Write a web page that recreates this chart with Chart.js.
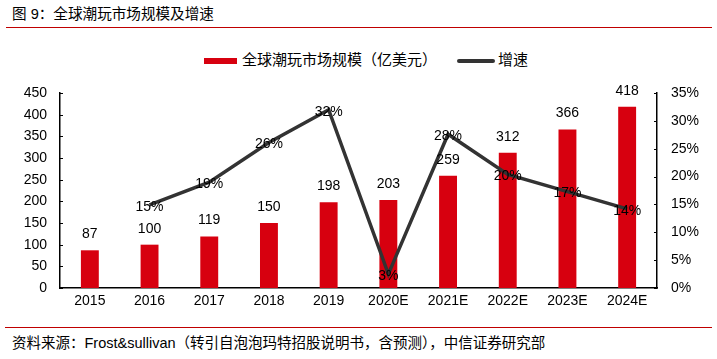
<!DOCTYPE html>
<html>
<head>
<meta charset="utf-8">
<script src="https://cdn.jsdelivr.net/npm/chart.js@4.4.1/dist/chart.umd.min.js"></script>
<style>
  body { margin: 0; background: #fff; }
  #wrap { position: relative; width: 717px; height: 359px; overflow: hidden; font-family: "Liberation Sans", "Noto Sans CJK SC", sans-serif; color: #000; }
  #title { position: absolute; left: 12px; top: 5px; font-size: 14.6px; line-height: 18px; }
  #titleRule { position: absolute; left: 6px; top: 27px; width: 706px; height: 1px; background: #c00000; }
  #legend { position: absolute; top: 50px; left: 0; font-size: 15px; line-height: 20px; }
  .lg { position: absolute; white-space: nowrap; }
  .sw { position: absolute; }
  #chartBox { position: absolute; left: 0; top: 30px; width: 717px; height: 290px; }
  #footRule { position: absolute; left: 5px; top: 327px; width: 707px; height: 1px; background: #c00000; }
  #source { position: absolute; left: 12px; top: 334px; font-size: 14.5px; line-height: 18px; white-space: nowrap; }
</style>
</head>
<body>
<div id="wrap">
  <div id="title">图 9：全球潮玩市场规模及增速</div>
  <div id="titleRule"></div>
  <div id="legend">
    <div class="sw" style="left:204px;top:8px;width:33px;height:6px;background:#d7000f"></div>
    <div class="lg" style="left:242px;top:0">全球潮玩市场规模（亿美元）</div>
    <div class="sw" style="left:457px;top:9px;width:38px;height:4px;background:#333;border-radius:2px"></div>
    <div class="lg" style="left:498px;top:0">增速</div>
  </div>
  <div id="chartBox"><canvas id="chart"></canvas></div>
  <div id="footRule"></div>
  <div id="source">资料来源：Frost&amp;sullivan（转引自泡泡玛特招股说明书，含预测），中信证券研究部</div>
</div>
<script>
const years = ['2015', '2016', '2017', '2018', '2019', '2020E', '2021E', '2022E', '2023E', '2024E'];
const marketSize = [87, 100, 119, 150, 198, 203, 259, 312, 366, 418];
const growthPct = [null, 14.9, 19.0, 26.1, 32.0, 2.5, 27.6, 20.4, 17.3, 14.2];

const FONT = '"Liberation Sans", "Noto Sans CJK SC", sans-serif';

// value labels + inward tick marks
const labelsPlugin = {
    id: 'labels',
    afterDatasetsDraw(chart) {
        const ctx = chart.ctx;
        ctx.save();
        ctx.font = '14px ' + FONT;
        ctx.fillStyle = '#000';
        ctx.textAlign = 'center';
        ctx.textBaseline = 'middle';
        chart.getDatasetMeta(0).data.forEach((bar, i) => {
            ctx.fillText(String(marketSize[i]), bar.x, bar.y - 16);
        });
        chart.getDatasetMeta(1).data.forEach((pt, i) => {
            if (growthPct[i] === null) return;
            ctx.fillText(Math.round(growthPct[i]) + '%', pt.x, pt.y + 2);
        });

        // small ticks pointing into the plot
        ctx.strokeStyle = '#000';
        ctx.lineWidth = 1;
        const yl = chart.scales.y;
        const yr = chart.scales.y1;
        yl.ticks.forEach((t, i) => {
            const py = Math.round(yl.getPixelForTick(i)) + 0.5;
            ctx.beginPath();
            ctx.moveTo(yl.right, py);
            ctx.lineTo(yl.right + 3, py);
            ctx.stroke();
        });
        yr.ticks.forEach((t, i) => {
            const py = Math.round(yr.getPixelForTick(i)) + 0.5;
            ctx.beginPath();
            ctx.moveTo(yr.left, py);
            ctx.lineTo(yr.left - 3, py);
            ctx.stroke();
        });
        ctx.restore();
    }
};

new Chart(document.getElementById('chart'), {
    data: {
        labels: years,
        datasets: [
            {
                type: 'bar',
                label: '全球潮玩市场规模（亿美元）',
                data: marketSize,
                backgroundColor: '#d7000f',
                categoryPercentage: 1,
                barPercentage: 0.3,
                yAxisID: 'y',
                order: 2
            },
            {
                type: 'line',
                label: '增速',
                data: growthPct,
                borderColor: '#333333',
                borderWidth: 3.5,
                pointRadius: 0,
                tension: 0,
                spanGaps: false,
                yAxisID: 'y1',
                order: 1
            }
        ]
    },
    options: {
        responsive: true,
        maintainAspectRatio: false,
        animation: false,
        layout: { padding: { top: 63, left: 0, right: 0, bottom: 0 } },
        plugins: {
            legend: { display: false },
            tooltip: { enabled: false }
        },
        scales: {
            x: {
                grid: { display: false, drawTicks: false },
                border: { display: true, color: '#000', width: 1.5 },
                ticks: { color: '#000', padding: 5, font: { size: 14, family: FONT } },
                afterFit(scale) { scale.height = 32; }
            },
            y: {
                position: 'left',
                min: 0,
                max: 450,
                grid: { display: false, drawTicks: false },
                border: { display: true, color: '#000', width: 1.5 },
                ticks: { stepSize: 50, color: '#000', padding: 13, font: { size: 14, family: FONT } },
                afterFit(scale) { scale.width = 60; }
            },
            y1: {
                position: 'right',
                min: 0,
                max: 35,
                grid: { display: false, drawTicks: false },
                border: { display: true, color: '#000', width: 1.5 },
                ticks: {
                    stepSize: 5,
                    color: '#000',
                    padding: 14,
                    font: { size: 14, family: FONT },
                    callback: function (value) { return value + '%'; }
                },
                afterFit(scale) { scale.width = 60; }
            }
        }
    },
    plugins: [labelsPlugin]
});
</script>
</body>
</html>
